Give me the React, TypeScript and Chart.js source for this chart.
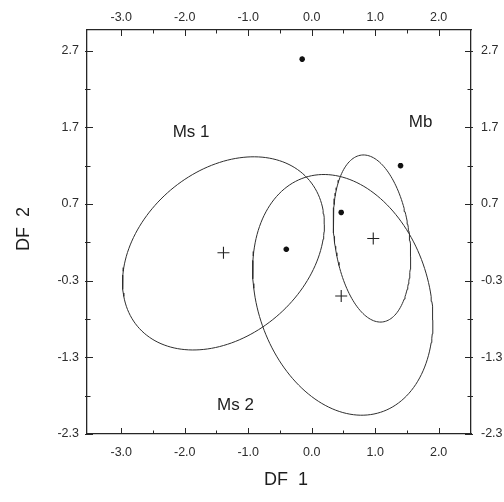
import React, { useEffect, useRef } from "react";
import { Chart, registerables } from "chart.js";

Chart.register(...registerables);

// Axis ranges of the discriminant-function plane
const xMin = -3.54;
const xMax = 2.51;
const yMin = -2.3;
const yMax = 2.97;

// Labelled and unlabelled tick positions
const xTickValues = [-3, -2, -1, 0, 1, 2];
const xMinorTicks = [-2.5, -1.5, -0.5, 0.5, 1.5];
const yTickValues = [-2.3, -1.3, -0.3, 0.7, 1.7, 2.7];
const yMinorTicks = [-1.8, -0.8, 0.2, 1.2, 2.2];

// Individual specimens (DF 1, DF 2)
const specimenX = [-0.15, 1.4, 0.465, -0.4];
const specimenY = [2.59, 1.2, 0.59, 0.11];

// Group centroids: Ms 1, Mb, Ms 2
const centroidX = [-1.39, 0.97, 0.465];
const centroidY = [0.065, 0.25, -0.5];

// Confidence ellipses: centre, spread along each axis, correlation
const groupNames = ["Ms 1", "Mb", "Ms 2"];
const ellipseCx = [-1.39, 0.95, 0.49];
const ellipseCy = [0.056, 0.25, -0.485];
const ellipseSx = [1.59, 0.61, 1.42];
const ellipseSy = [1.26, 1.09, 1.57];
const ellipseR = [0.3, -0.22, -0.21];

// Group labels placed in the plane
const noteText = ["Ms 1", "Mb", "Ms 2"];
const noteX = [-2.19, 1.53, -1.49];
const noteY = [1.64, 1.77, -1.92];

const FONT = '"Liberation Sans", Arial, Helvetica, sans-serif';
const INK = "#262626";

function ellipseOutline(i: number) {
  const pts: { x: number; y: number }[] = [];
  const n = 160;
  const k = Math.sqrt(1 - ellipseR[i] * ellipseR[i]);
  for (let j = 0; j <= n; j++) {
    const t = (2 * Math.PI * j) / n;
    pts.push({
      x: ellipseCx[i] + ellipseSx[i] * Math.cos(t),
      y: ellipseCy[i] + ellipseSy[i] * (ellipseR[i] * Math.cos(t) + k * Math.sin(t)),
    });
  }
  return pts;
}

const fmt = (v: number | string) => Number(v).toFixed(1);

// Inward tick marks on all four sides, plus group labels and axis titles
const framePlugin = {
  id: "frameTicks",
  afterDraw(chart: any) {
    const { ctx, chartArea, scales } = chart;
    const { left, right, top, bottom } = chartArea;
    ctx.save();
    ctx.strokeStyle = INK;
    ctx.lineWidth = 1;
    const major = 6;
    const minor = 3.5;
    const hx = (v: number, len: number) => {
      const p = Math.round(scales.x.getPixelForValue(v)) + 0.5;
      ctx.beginPath();
      ctx.moveTo(p, bottom);
      ctx.lineTo(p, bottom - len);
      ctx.moveTo(p, top);
      ctx.lineTo(p, top + len);
      ctx.stroke();
    };
    const vy = (v: number, len: number) => {
      const p = Math.round(scales.y.getPixelForValue(v)) + 0.5;
      ctx.beginPath();
      ctx.moveTo(left - 2, p);
      ctx.lineTo(left + len, p);
      ctx.moveTo(right + 2, p);
      ctx.lineTo(right - len, p);
      ctx.stroke();
    };
    xTickValues.forEach((v) => hx(v, major));
    xMinorTicks.forEach((v) => hx(v, minor));
    yTickValues.forEach((v) => vy(v, major));
    yMinorTicks.forEach((v) => vy(v, minor));

    ctx.fillStyle = "#1e1e1e";
    ctx.textBaseline = "middle";
    ctx.textAlign = "left";
    ctx.font = `17px ${FONT}`;
    noteText.forEach((t, i) => {
      ctx.fillText(t, scales.x.getPixelForValue(noteX[i]), scales.y.getPixelForValue(noteY[i]));
    });

    ctx.font = `18px ${FONT}`;
    ctx.textAlign = "center";
    ctx.fillText("DF  1", 286, 480);
    ctx.translate(24, 229);
    ctx.rotate(-Math.PI / 2);
    ctx.fillText("DF  2", 0, 0);
    ctx.restore();
  },
};

export default function App() {
  const ref = useRef<HTMLCanvasElement | null>(null);

  useEffect(() => {
    if (!ref.current) return;
    const tickFont = { family: FONT, size: 12.5 };
    const border = { display: true, color: INK, width: 1.3 };
    const grid = { display: false, drawTicks: false };
    const xTicks = (s: any) => {
      s.ticks = xTickValues.map((v) => ({ value: v }));
    };
    const yTicks = (s: any) => {
      s.ticks = yTickValues.map((v) => ({ value: v }));
    };

    const ellipseSets = groupNames.map((name, i) => ({
      type: "scatter" as const,
      label: name,
      data: ellipseOutline(i),
      showLine: true,
      borderColor: "#2e2e2e",
      borderWidth: 1,
      pointRadius: 0,
      fill: false,
      tension: 0,
    }));

    const chart = new Chart(ref.current, {
      type: "scatter",
      data: {
        datasets: [
          ...ellipseSets,
          {
            label: "Specimens",
            data: specimenX.map((x, i) => ({ x, y: specimenY[i] })),
            pointStyle: "star",
            pointRadius: 2.8,
            borderWidth: 1.8,
            borderColor: "#111",
            backgroundColor: "#111",
          },
          {
            label: "Centroids",
            data: centroidX.map((x, i) => ({ x, y: centroidY[i] })),
            pointStyle: "cross",
            pointRadius: 6,
            borderWidth: 1.1,
            borderColor: "#222",
            backgroundColor: "#222",
          },
        ],
      },
      options: {
        responsive: false,
        animation: false,
        devicePixelRatio: 1,
        layout: { padding: 0 },
        plugins: { legend: { display: false }, tooltip: { enabled: false } },
        scales: {
          x: {
            type: "linear",
            position: "bottom",
            min: xMin,
            max: xMax,
            grid,
            border,
            afterBuildTicks: xTicks,
            afterFit: (s: any) => {
              s.height = 68;
            },
            ticks: { padding: 11, color: "#2c2c2c", font: tickFont, callback: fmt },
          },
          x2: {
            type: "linear",
            position: "top",
            min: xMin,
            max: xMax,
            grid,
            border,
            afterBuildTicks: xTicks,
            afterFit: (s: any) => {
              s.height = 30;
            },
            ticks: { padding: 5, color: "#2c2c2c", font: tickFont, callback: fmt },
          },
          y: {
            type: "linear",
            position: "left",
            min: yMin,
            max: yMax,
            grid,
            border,
            afterBuildTicks: yTicks,
            afterFit: (s: any) => {
              s.width = 87;
            },
            ticks: { padding: 8, color: "#2c2c2c", font: tickFont, callback: fmt },
          },
          y2: {
            type: "linear",
            position: "right",
            min: yMin,
            max: yMax,
            grid,
            border,
            afterBuildTicks: yTicks,
            afterFit: (s: any) => {
              s.width = 33;
            },
            ticks: { padding: 10, color: "#2c2c2c", font: tickFont, callback: fmt },
          },
        },
      },
      plugins: [framePlugin],
    });
    return () => chart.destroy();
  }, []);

  return (
    <div style={{ position: "absolute", left: 0, top: 0, width: 504, height: 502, background: "#fff" }}>
      <canvas ref={ref} width={504} height={502} style={{ display: "block" }} />
    </div>
  );
}
